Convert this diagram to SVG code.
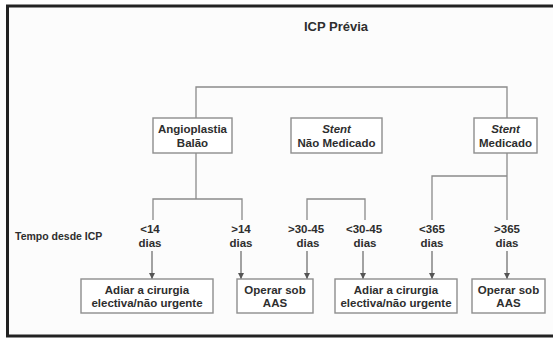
<svg xmlns="http://www.w3.org/2000/svg" width="553" height="338" viewBox="0 0 553 338">
  <defs>
    <marker id="arrow" viewBox="0 0 6 6" refX="6" refY="3" markerWidth="6" markerHeight="6" orient="auto" markerUnits="userSpaceOnUse">
      <path d="M0,0 L6,3 L0,6 Z" fill="#555"/>
    </marker>
  </defs>
  <style>
    text { font-family: "Liberation Sans", Arial, sans-serif; font-weight: bold; fill: #2e2e2e; }
    .title { font-size: 13px; }
    .lbl { font-size: 11.5px; text-anchor: middle; }
    .row { font-size: 10.5px; }
    .box { fill: #ffffff; stroke: #8e8e8e; stroke-width: 1.4; }
    .conn { fill: none; stroke: #8a8a8a; stroke-width: 1.3; }
    .arr { fill: none; stroke: #666; stroke-width: 1.2; marker-end: url(#arrow); }
    .it { font-style: italic; }
  </style>

  <!-- page and frame -->
  <rect x="0" y="0" width="553" height="338" fill="#ffffff"/>
  <rect x="7.5" y="6" width="560" height="330" fill="#fcfcfc" stroke="#222" stroke-width="3"/>

  <text class="title" x="336" y="31" text-anchor="middle">ICP Prévia</text>
  <text class="row" x="15" y="240">Tempo desde ICP</text>

  <!-- connectors -->
  <g id="connectors">
    <path class="conn" d="M196,118 V87 H507 V118"/>
    <path class="conn" d="M196,153 V199"/>
    <path class="conn" d="M153,220 V199 H242 V220"/>
    <path class="conn" d="M307,220 V199 H365 V220"/>
    <path class="conn" d="M507,153 V220"/>
    <path class="conn" d="M432,220 V176 H507"/>
    <path class="arr" d="M152,251 V279"/>
    <path class="arr" d="M241,251 V279"/>
    <path class="arr" d="M307,251 V279"/>
    <path class="arr" d="M363,251 V279"/>
    <path class="arr" d="M432,251 V279"/>
    <path class="arr" d="M507,251 V279"/>
  </g>

  <!-- first level -->
  <g id="angioplastia">
    <rect class="box" x="153" y="118" width="79" height="35"/>
    <text class="lbl" x="192.5" y="133">Angioplastia</text>
    <text class="lbl" x="192.5" y="147">Balão</text>
  </g>
  <g id="stent-nao-medicado">
    <rect class="box" x="291" y="118" width="91" height="35"/>
    <text class="lbl it" x="336.5" y="133">Stent</text>
    <text class="lbl" x="336.5" y="147">Não Medicado</text>
  </g>
  <g id="stent-medicado">
    <rect class="box" x="474" y="118" width="63" height="35"/>
    <text class="lbl it" x="505.5" y="133">Stent</text>
    <text class="lbl" x="505.5" y="147">Medicado</text>
  </g>

  <!-- time labels -->
  <g id="t-lt14"><text class="lbl" x="150" y="233">&lt;14</text><text class="lbl" x="150" y="247">dias</text></g>
  <g id="t-gt14"><text class="lbl" x="241" y="233">&gt;14</text><text class="lbl" x="241" y="247">dias</text></g>
  <g id="t-gt30"><text class="lbl" x="306" y="233">&gt;30-45</text><text class="lbl" x="308" y="247">dias</text></g>
  <g id="t-lt30"><text class="lbl" x="364" y="233">&lt;30-45</text><text class="lbl" x="365" y="247">dias</text></g>
  <g id="t-lt365"><text class="lbl" x="432" y="233">&lt;365</text><text class="lbl" x="432" y="247">dias</text></g>
  <g id="t-gt365"><text class="lbl" x="507" y="233">&gt;365</text><text class="lbl" x="507" y="247">dias</text></g>

  <!-- outcomes -->
  <g id="adiar-1">
    <rect class="box" x="81" y="279" width="132" height="34"/>
    <text class="lbl" x="147" y="294">Adiar a cirurgia</text>
    <text class="lbl" x="147" y="307">electiva/não urgente</text>
  </g>
  <g id="operar-1">
    <rect class="box" x="237" y="279" width="76" height="34"/>
    <text class="lbl" x="275" y="294">Operar sob</text>
    <text class="lbl" x="275" y="307">AAS</text>
  </g>
  <g id="adiar-2">
    <rect class="box" x="335" y="279" width="122" height="34"/>
    <text class="lbl" x="396" y="294">Adiar a cirurgia</text>
    <text class="lbl" x="396" y="307">electiva/não urgente</text>
  </g>
  <g id="operar-2">
    <rect class="box" x="472" y="279" width="73" height="34"/>
    <text class="lbl" x="508.5" y="294">Operar sob</text>
    <text class="lbl" x="508.5" y="307">AAS</text>
  </g>
</svg>
